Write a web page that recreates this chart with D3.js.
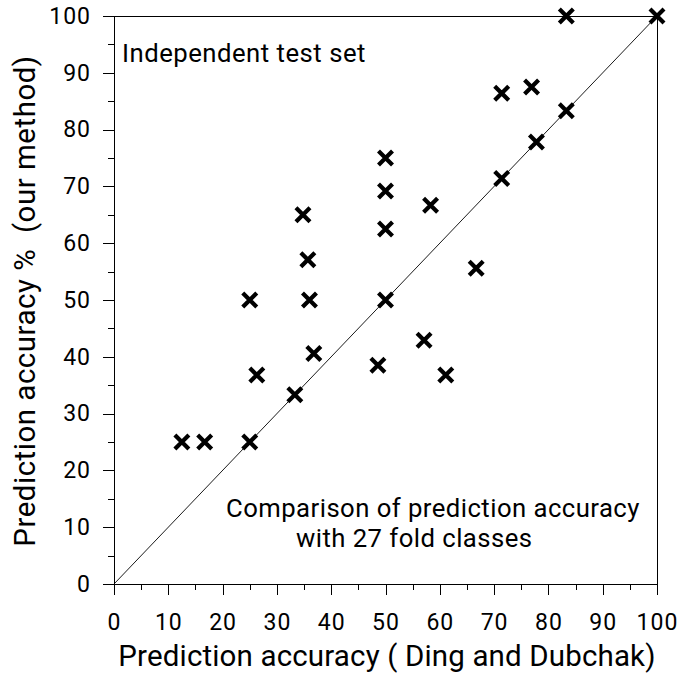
<!DOCTYPE html>
<html>
<head>
<meta charset="utf-8">
<script src="https://cdn.jsdelivr.net/npm/d3@7"></script>
<style>
  html, body { margin: 0; padding: 0; background: #fff; }
  svg { display: block; }
  text { font-family: "Roboto", "Liberation Sans", sans-serif; font-weight: 400; fill: #000; white-space: pre; }
</style>
</head>
<body>
<svg id="chart" width="683" height="678"></svg>
<script>
// Data: x = Ding and Dubchak accuracy, y = our method accuracy
const dingDubchak = [83.3, 100, 71.4, 76.9, 83.3, 77.8, 71.4, 50, 50, 50, 34.8, 58.3, 35.7, 66.7,
                     25, 36, 50, 57.1, 36.8, 48.6, 26.3, 61.1, 33.3, 12.5, 16.7, 25];
const ourMethod   = [100, 100, 86.4, 87.5, 83.3, 77.8, 71.4, 75, 69.2, 62.5, 65, 66.7, 57.1, 55.6,
                     50, 50, 50, 42.9, 40.6, 38.5, 36.8, 36.8, 33.3, 25, 25, 25];
const tickValues = [0, 10, 20, 30, 40, 50, 60, 70, 80, 90, 100];
const minorTickValues = [5, 15, 25, 35, 45, 55, 65, 75, 85, 95];
const xTitle = "Prediction accuracy ( Ding and Dubchak)";
const yTitle = "Prediction accuracy %  (our method)";
const note1 = "Independent test set";
const note2 = ["Comparison of prediction accuracy", "with 27 fold classes"];

const W = 683, H = 678;
const margin = { left: 114, right: 26, top: 16, bottom: 94 };
const svg = d3.select("#chart");

const x = d3.scaleLinear().domain([0, 100]).range([margin.left, W - margin.right]);
const y = d3.scaleLinear().domain([0, 100]).range([H - margin.bottom, margin.top]);

// Frame (top and right)
svg.append("line").attr("x1", x(0)).attr("x2", x(100)).attr("y1", y(100)).attr("y2", y(100))
  .attr("stroke", "#000").attr("stroke-width", 1).attr("shape-rendering", "crispEdges");
svg.append("line").attr("x1", x(100)).attr("x2", x(100)).attr("y1", y(0)).attr("y2", y(100))
  .attr("stroke", "#000").attr("stroke-width", 1).attr("shape-rendering", "crispEdges");

// Axes
const xAxis = svg.append("g").attr("transform", `translate(0,${y(0)})`)
  .call(d3.axisBottom(x).tickValues(tickValues).tickSize(11).tickPadding(19).tickFormat(d3.format("d")));
const xMinor = svg.append("g").attr("transform", `translate(0,${y(0)})`)
  .call(d3.axisBottom(x).tickValues(minorTickValues).tickSize(6).tickFormat(""));
const yAxis = svg.append("g").attr("transform", `translate(${x(0)},0)`)
  .call(d3.axisLeft(y).tickValues(tickValues).tickSize(11).tickPadding(12).tickFormat(d3.format("d")));
const yMinor = svg.append("g").attr("transform", `translate(${x(0)},0)`)
  .call(d3.axisLeft(y).tickValues(minorTickValues).tickSize(6).tickFormat(""));

[xAxis, xMinor, yAxis, yMinor].forEach(g => {
  g.selectAll("path.domain").attr("stroke", "#000").attr("stroke-width", 1).attr("shape-rendering", "crispEdges");
  g.selectAll("line").attr("stroke", "#000").attr("stroke-width", 1).attr("shape-rendering", "crispEdges");
  g.selectAll("text").attr("font-family", null).attr("font-size", null)
    .style("font-size", "23px").style("letter-spacing", "1px").attr("fill", "#000");
});
xMinor.select("path.domain").remove();
yMinor.select("path.domain").remove();

// Diagonal line
svg.append("line").attr("x1", x(0)).attr("y1", y(0)).attr("x2", x(100)).attr("y2", y(100))
  .attr("stroke", "#000").attr("stroke-width", 0.9);

// Points (X markers)
const pts = dingDubchak.map((d, i) => ({ x: d, y: ourMethod[i] }));
const s = 7;
svg.append("g").selectAll("path").data(pts).join("path")
  .attr("transform", d => `translate(${x(d.x)},${y(d.y)})`)
  .attr("d", `M${-s},${-s}L${s},${s}M${-s},${s}L${s},${-s}`)
  .attr("stroke", "#000").attr("stroke-width", 4.2).attr("fill", "none");

// Titles
svg.append("text").attr("x", 387).attr("y", 666)
  .attr("text-anchor", "middle").style("font-size", "29.5px").style("letter-spacing", "0.15px").text(xTitle);
svg.append("text").attr("transform", `translate(35,301) rotate(-90)`)
  .attr("text-anchor", "middle").style("font-size", "29.5px").style("letter-spacing", "0.5px").text(yTitle);

// Notes
svg.append("text").attr("x", 122).attr("y", 62).style("font-size", "25.7px").style("letter-spacing", "0.5px").text(note1);
svg.append("text").attr("x", 226).attr("y", 517).style("font-size", "25.7px").style("letter-spacing", "0.45px").text(note2[0]);
svg.append("text").attr("x", 296).attr("y", 547).style("font-size", "25.7px").style("letter-spacing", "0.45px").text(note2[1]);
</script>
</body>
</html>
